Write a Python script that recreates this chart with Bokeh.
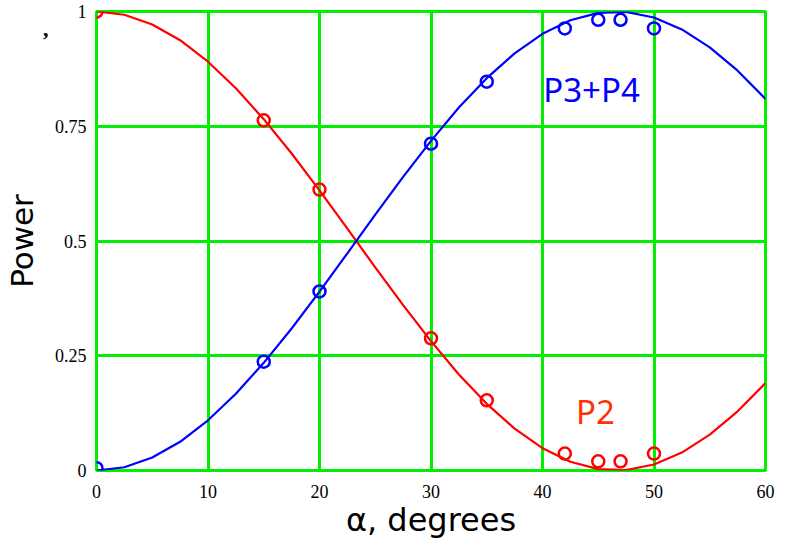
from bokeh.plotting import figure
from bokeh.models import Range1d, FixedTicker, Label, ColumnDataSource, LinearAxis
from bokeh.embed import file_html
from bokeh.resources import INLINE

# Smooth curves (every 2.5 degrees)
alpha_curve = [0, 2.5, 5, 7.5, 10, 12.5, 15, 17.5, 20, 22.5, 25, 27.5, 30,
               32.5, 35, 37.5, 40, 42.5, 45, 47.5, 50, 52.5, 55, 57.5, 60]
p2_curve = [1.0, 0.9929, 0.9718, 0.9375, 0.8906, 0.8327, 0.7654, 0.6906, 0.6103,
            0.5268, 0.4425, 0.3604, 0.2818, 0.2093, 0.1452, 0.0912, 0.0487, 0.0190,
            0.0029, 0.0009, 0.0131, 0.0390, 0.0780, 0.1290, 0.1905]
p34_curve = [0.0, 0.0071, 0.0282, 0.0625, 0.1094, 0.1673, 0.2346, 0.3094, 0.3897,
             0.4732, 0.5575, 0.6396, 0.7182, 0.7907, 0.8548, 0.9088, 0.9513, 0.9810,
             0.9971, 0.9991, 0.9869, 0.9610, 0.9220, 0.8710, 0.8095]

# Measured points
alpha_meas = [0, 15, 20, 30, 35, 42, 45, 47, 50]
p2_meas = [1.0, 0.763, 0.612, 0.288, 0.153, 0.037, 0.02, 0.02, 0.037]
p34_meas = [0.005, 0.237, 0.39, 0.712, 0.847, 0.963, 0.982, 0.982, 0.963]

x_ticks = [0, 10, 20, 30, 40, 50, 60]
y_ticks = [0, 0.25, 0.5, 0.75, 1]
y_tick_labels = {0: "0", 0.25: "0.25", 0.5: "0.5", 0.75: "0.75", 1: "1"}
stray_mark_y = 0.962
stray_mark = ","

GREEN = "#00f000"
RED = "#ff0000"
BLUE = "#0000ff"

p = figure(width=783, height=544, output_backend="svg", toolbar_location=None,
           x_range=Range1d(0, 60), y_range=Range1d(0, 1),
           min_border_left=96, min_border_right=18, min_border_top=11, min_border_bottom=74)
p.background_fill_color = "white"
p.border_fill_color = "white"
p.outline_line_color = GREEN
p.outline_line_width = 3

# outer left axis carrying the axis title and the stray mark
y2 = LinearAxis(ticker=FixedTicker(ticks=[stray_mark_y]),
                major_label_overrides={stray_mark_y: stray_mark})
p.add_layout(y2, "left")

for ax in (p.xaxis[0], p.yaxis[0], y2):
    ax.axis_line_color = None
    ax.major_tick_line_color = None
    ax.minor_tick_line_color = None
    ax.major_tick_out = 0
    ax.major_tick_in = 0
    ax.minor_tick_out = 0
    ax.minor_tick_in = 0
    ax.major_label_text_font = "Liberation Serif"
    ax.major_label_text_font_size = "18px"
    ax.major_label_text_color = "black"
    ax.axis_label_text_font = "DejaVu Sans"
    ax.axis_label_text_font_style = "normal"
    ax.axis_label_text_color = "black"

y2.major_label_text_font_size = "22px"
y2.major_label_text_font_style = "bold"
y2.major_label_standoff = 3
y2.axis_label = "Power"
y2.axis_label_text_font_size = "31px"
y2.axis_label_standoff = 0

p.xaxis.axis_label_text_font_size = "32px"
p.xaxis.ticker = FixedTicker(ticks=x_ticks)
p.yaxis[0].ticker = FixedTicker(ticks=y_ticks)
p.yaxis[0].major_label_overrides = y_tick_labels
p.xaxis.major_label_standoff = 14
p.yaxis[0].major_label_standoff = 10
p.xaxis.axis_label = "α, degrees"
p.xaxis.axis_label_standoff = 0

p.xgrid.ticker = FixedTicker(ticks=x_ticks)
p.ygrid.ticker = FixedTicker(ticks=y_ticks)
for g in (p.xgrid[0], p.ygrid[0]):
    g.grid_line_color = GREEN
    g.grid_line_width = 3
    g.grid_line_alpha = 1.0

curve = ColumnDataSource(dict(x=alpha_curve, p2=p2_curve, p34=p34_curve))
meas = ColumnDataSource(dict(x=alpha_meas, p2=p2_meas, p34=p34_meas))

p.line("x", "p2", source=curve, line_color=RED, line_width=2.2)
p.line("x", "p34", source=curve, line_color=BLUE, line_width=2.2)
p.scatter("x", "p2", source=meas, marker="circle", size=12, fill_color=None,
          line_color=RED, line_width=2.5)
p.scatter("x", "p34", source=meas, marker="circle", size=12, fill_color=None,
          line_color=BLUE, line_width=2.5)

p.add_layout(Label(x=44.4, y=0.83, text="P3+P4", text_color=BLUE, text_font="Noto Sans",
                   text_font_size="33px", text_align="center", text_baseline="middle"))
p.add_layout(Label(x=44.75, y=0.128, text="P2", text_color="#ff3300", text_font="Noto Sans",
                   text_font_size="33px", text_align="center", text_baseline="middle"))

open("out.html", "w").write(file_html(p, INLINE))
